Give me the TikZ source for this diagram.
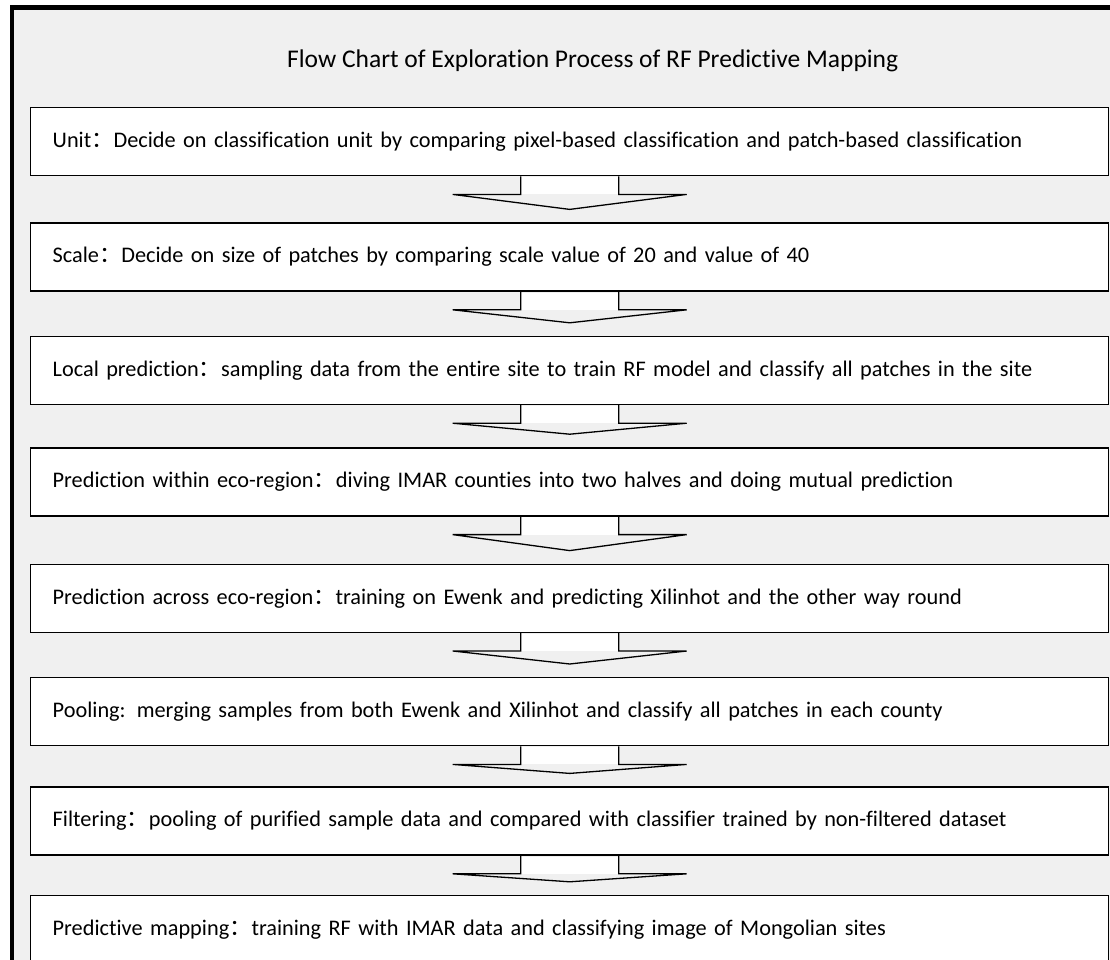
\documentclass[tikz,border=0pt]{standalone}
\usepackage{fontspec}
\setmainfont{Carlito}[Ligatures={NoCommon}]
\newfontfamily\cjk{Noto Sans CJK SC}
\usetikzlibrary{positioning, calc}
\definecolor{panelgray}{HTML}{F0F0F0}
\newcommand{\zhcolon}{{\cjk ：}}

\begin{document}
\begin{tikzpicture}[
    x=1pt, y=1pt,
    font=\fontsize{22.3}{26}\selectfont,
    stagebox/.style={draw=black, fill=white, line width=1.4pt, minimum height=68pt, text width=1034pt, inner xsep=22pt, inner ysep=0pt, align=left},
    blockarrow/.style={draw=black, line width=1.3pt, line join=miter}
  ]
  \useasboundingbox (0,0) rectangle (1110,-960);
  \clip (0,0) rectangle (1110,-960);
  % outer panel, cut off at right and bottom
  \draw[fill=panelgray, line width=4.5pt] (12,-7.5) rectangle (1130,-980);
  \node[anchor=base west, inner sep=0pt, font=\fontsize{25.5}{30}\selectfont] (title) at (287,-68)
    {Flow Chart of Exploration Process of RF Predictive Mapping};
  \node[stagebox, anchor=north west] (unit) at (30,-107)
    {Unit\zhcolon Decide on classification unit by comparing pixel-based classification and patch-based classification};
  \node[stagebox, below=46pt of unit] (scale)
    {Scale\zhcolon Decide on size of patches by comparing scale value of 20 and value of 40};
  \node[stagebox, below=44pt of scale] (local)
    {Local prediction\zhcolon sampling data from the entire site to train RF model and classify all patches in the site};
  \node[stagebox, below=42pt of local] (within)
    {Prediction within eco-region\zhcolon diving IMAR counties into two halves and doing mutual prediction};
  \node[stagebox, below=47pt of within] (across)
    {Prediction across eco-region\zhcolon training on Ewenk and predicting Xilinhot and the other way round};
  \node[stagebox, below=44pt of across] (pooling)
    {Pooling: merging samples from both Ewenk and Xilinhot and classify all patches in each county};
  \node[stagebox, below=40pt of pooling] (filter)
    {Filtering\zhcolon pooling of purified sample data and compared with classifier trained by non-filtered dataset};
  \node[stagebox, below=39pt of filter] (mapping)
    {Predictive mapping\zhcolon training RF with IMAR data and classifying image of Mongolian sites};
  % block arrows between stages
  \foreach \a/\b in {unit/scale, scale/local, local/within, within/across, across/pooling, pooling/filter, filter/mapping} {
    \fill[white] ($(\a.south)+(-49,-0.7)$) rectangle ($(\a.south)+(49,-18)$);
    \draw[blockarrow] ($(\a.south)+(-49,0)$) |- ($(\a.south)+(-117,-18)$)
      -- ($(\b.north)+(0,13)$) -- ($(\a.south)+(117,-18)$) -| ($(\a.south)+(49,0)$);
  }
\end{tikzpicture}
\end{document}
